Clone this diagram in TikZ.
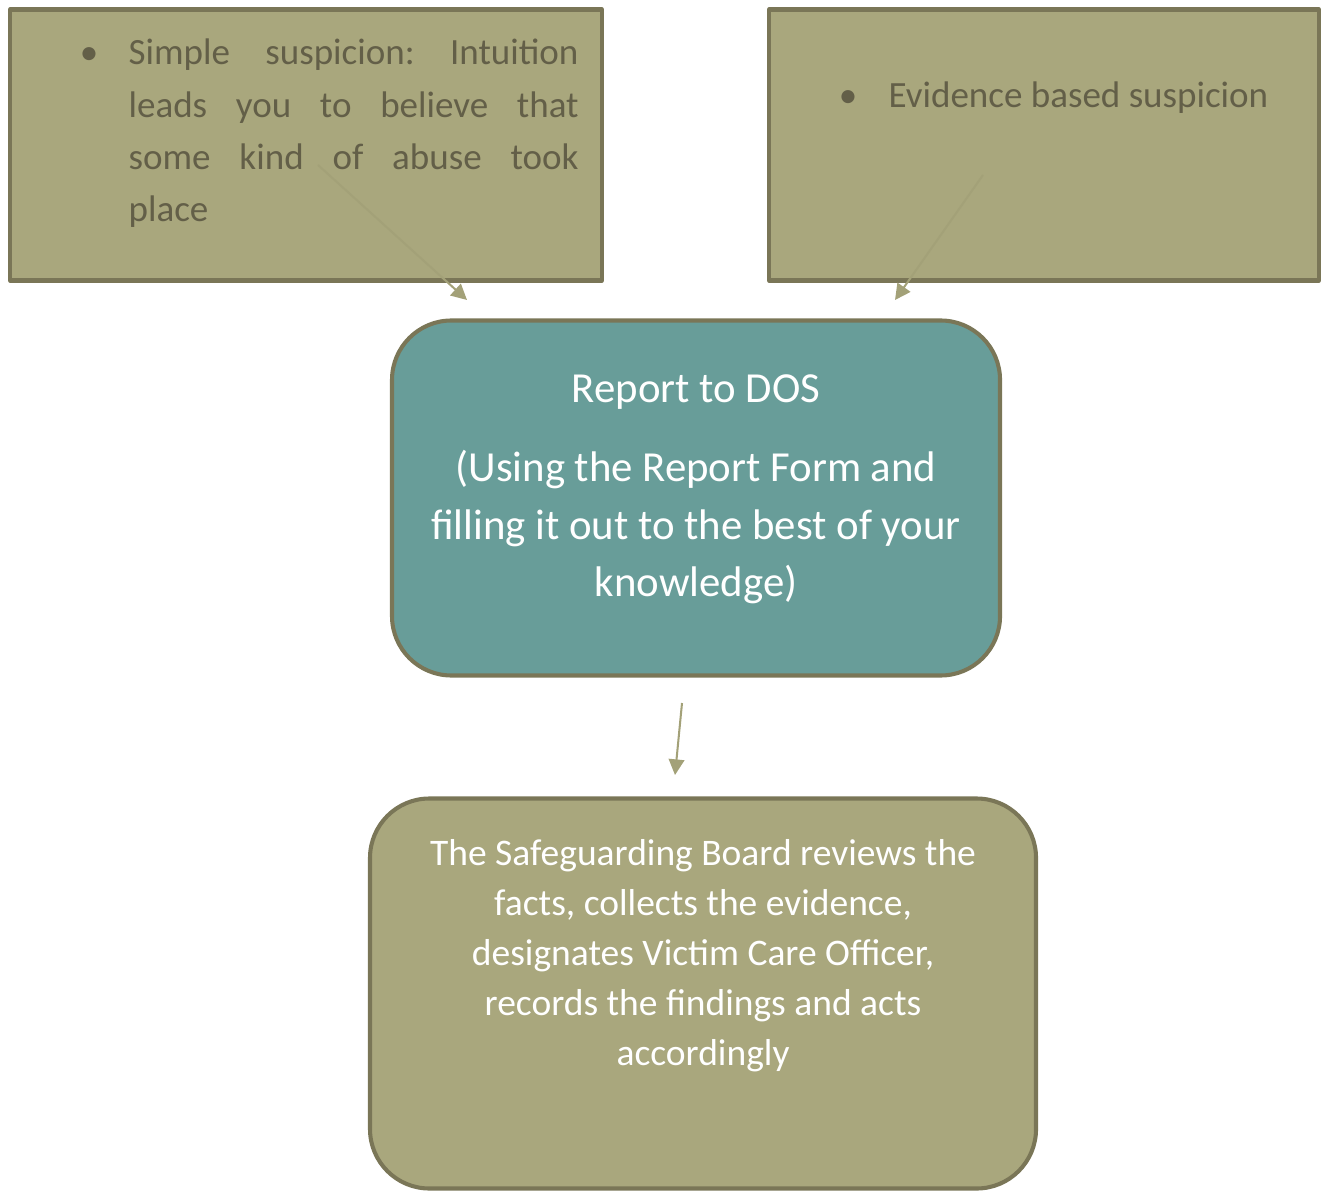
\documentclass[tikz,border=0pt]{standalone}
\usepackage{fontspec}
\setmainfont{Carlito}
\usetikzlibrary{arrows.meta}
\definecolor{olivefill}{HTML}{A9A77D}
\definecolor{olivedraw}{HTML}{7A7657}
\definecolor{olivetext}{HTML}{635F48}
\definecolor{olivearrow}{HTML}{A3A178}
\definecolor{tealfill}{HTML}{689D99}
\newlength\px
\setlength\px{0.32pt}

\begin{document}
\begin{tikzpicture}[x=\px,y=-\px,>={Triangle[length=5pt,width=5pt]},line join=round,
  flatbox/.style={draw=olivedraw,fill=olivefill,line width=1.3pt,inner sep=0pt},
  roundbox/.style={flatbox,rounded corners=19pt},
  darkline/.style={anchor=base west,inner sep=0pt,text=olivetext,font=\fontsize{11.85}{14}\selectfont},
  dotmark/.style={anchor=base,inner sep=0pt,text=olivetext,font=\fontsize{11.85}{14}\selectfont},
  whiteline/.style={anchor=base,inner sep=0pt,text=white},
  flowarrow/.style={->,draw=olivearrow,line width=0.65pt}]
  \useasboundingbox (0,0) rectangle (1326,1192);
  % boxes
  \node[flatbox,minimum width=592\px,minimum height=271\px] (simple) at (306,145) {};
  \node[flatbox,minimum width=550\px,minimum height=271\px] (evidence) at (1044,145) {};
  \node[roundbox,fill=tealfill,minimum width=608\px,minimum height=355\px] (report) at (696,498) {};
  \node[roundbox,minimum width=666\px,minimum height=390\px] (board) at (703,993.5) {};
  % left box text
  \node[dotmark] (b1) at (89,65) {\textbullet};
  \node[darkline] (s1) at (128,65) {\hbox to 450\px{Simple\hfill suspicion:\hfill Intuition}};
  \node[darkline] (s2) at (128,117.5) {\hbox to 450\px{leads\hfill you\hfill to\hfill believe\hfill that}};
  \node[darkline] (s3) at (128,170) {\hbox to 450\px{some\hfill kind\hfill of\hfill abuse\hfill took}};
  \node[darkline] (s4) at (128,222) {place};
  % right box text
  \node[dotmark] (b2) at (848,108) {\textbullet};
  \node[darkline] (e1) at (888,108) {Evidence based suspicion};
  % centre box text
  \node[whiteline,font=\fontsize{13.7}{16}\selectfont] (r1) at (696,403) {Report to DOS};
  \node[whiteline,font=\fontsize{13.7}{16}\selectfont] (r2) at (696,482) {(Using the Report Form and};
  \node[whiteline,font=\fontsize{13.7}{16}\selectfont] (r3) at (696,539) {filling it out to the best of your};
  \node[whiteline,font=\fontsize{13.7}{16}\selectfont] (r4) at (696,596) {knowledge)};
  % bottom box text
  \node[whiteline,font=\fontsize{12}{15}\selectfont] (t1) at (703,865) {The Safeguarding Board reviews the};
  \node[whiteline,font=\fontsize{12}{15}\selectfont] (t2) at (703,915) {facts, collects the evidence,};
  \node[whiteline,font=\fontsize{12}{15}\selectfont] (t3) at (703,965) {designates Victim Care Officer,};
  \node[whiteline,font=\fontsize{12}{15}\selectfont] (t4) at (703,1015) {records the findings and acts};
  \node[whiteline,font=\fontsize{12}{15}\selectfont] (t5) at (703,1065) {accordingly};
  % arrows
  \coordinate (a1s) at (318,165);
  \coordinate (a1e) at (467,300);
  \coordinate (a2s) at (983,175);
  \coordinate (a2e) at (895,300);
  \coordinate (a3s) at (682,703);
  \coordinate (a3e) at (675,775);
  \draw[flowarrow] (a1s) -- (a1e);
  \draw[flowarrow] (a2s) -- (a2e);
  \draw[flowarrow] (a3s) -- (a3e);
\end{tikzpicture}
\end{document}
